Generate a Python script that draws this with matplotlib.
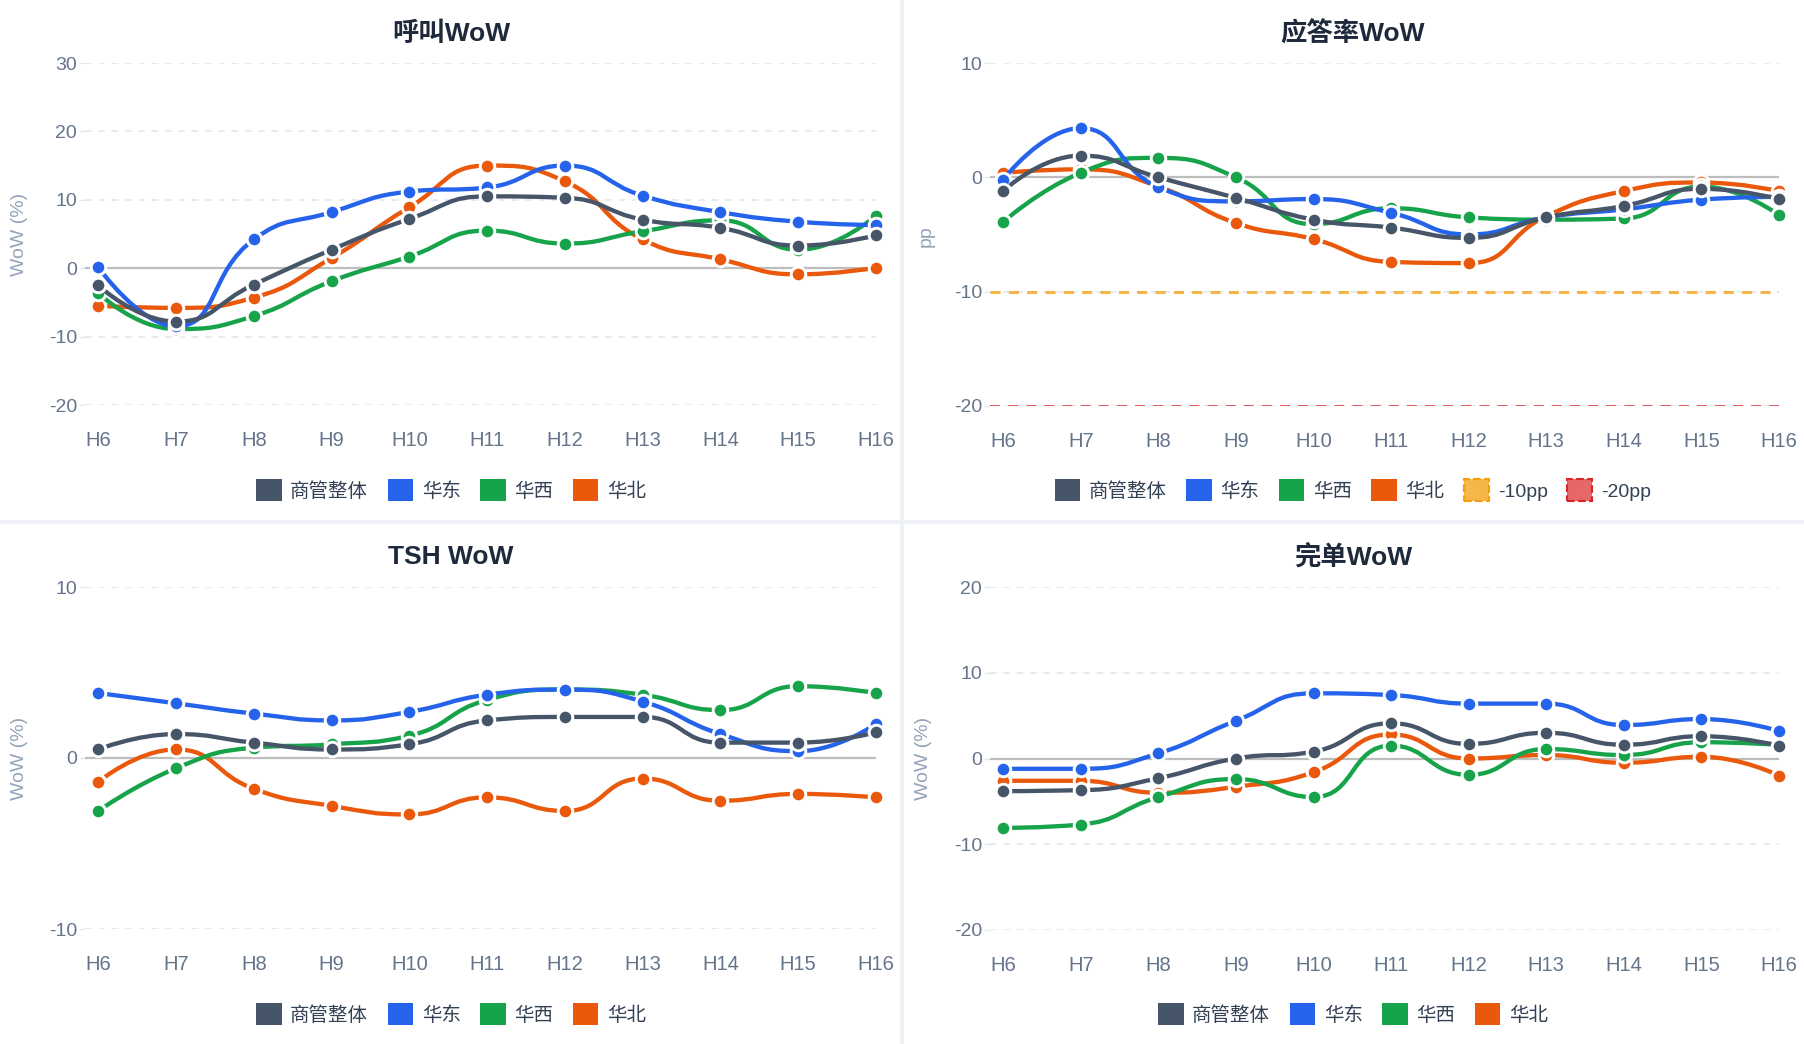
import numpy as np
import matplotlib
matplotlib.use('Agg')
import matplotlib.pyplot as plt
from matplotlib.path import Path
from matplotlib.patches import PathPatch, Patch, Rectangle

plt.rcParams['font.family'] = ['Liberation Sans', 'Noto Sans CJK SC']

# ---------------------------------------------------------------------------
# data
# ---------------------------------------------------------------------------
hours = ['H6', 'H7', 'H8', 'H9', 'H10', 'H11', 'H12', 'H13', 'H14', 'H15', 'H16']
regions = ['商管整体', '华东', '华西', '华北']
colors = ['#475569', '#2563eb', '#16a34a', '#ea580c']

call_overall = [-2.5, -7.8, -2.4, 2.7, 7.2, 10.5, 10.3, 7.1, 5.9, 3.3, 4.8]
call_east = [0.15, -8.5, 4.2, 8.2, 11.2, 11.8, 15.0, 10.6, 8.2, 6.8, 6.3]
call_west = [-3.6, -8.9, -7.0, -1.9, 1.7, 5.5, 3.6, 5.4, 7.0, 2.7, 7.7]
call_north = [-5.5, -5.8, -4.3, 1.5, 8.9, 15.0, 12.7, 4.2, 1.3, -0.9, 0.05]

ans_overall = [-1.2, 1.9, 0.0, -1.8, -3.7, -4.4, -5.3, -3.5, -2.5, -1.0, -1.9]
ans_east = [-0.2, 4.3, -0.85, -2.1, -1.9, -3.1, -5.0, -3.5, -2.8, -1.95, -1.7]
ans_west = [-3.9, 0.4, 1.7, 0.0, -4.1, -2.7, -3.5, -3.7, -3.6, -0.8, -3.3]
ans_north = [0.4, 0.7, -0.8, -4.0, -5.4, -7.4, -7.5, -3.4, -1.2, -0.45, -1.2]
ans_refs = [-10, -20]
ans_ref_labels = ['-10pp', '-20pp']

tsh_overall = [0.5, 1.4, 0.9, 0.5, 0.8, 2.2, 2.4, 2.4, 0.9, 0.9, 1.5]
tsh_east = [3.8, 3.2, 2.6, 2.2, 2.7, 3.7, 4.0, 3.3, 1.4, 0.4, 2.0]
tsh_west = [-3.1, -0.6, 0.6, 0.8, 1.3, 3.4, 4.0, 3.7, 2.8, 4.2, 3.8]
tsh_north = [-1.4, 0.5, -1.8, -2.8, -3.3, -2.3, -3.1, -1.2, -2.5, -2.1, -2.3]

done_overall = [-3.8, -3.7, -2.3, 0.0, 0.8, 4.1, 1.7, 3.0, 1.6, 2.6, 1.5]
done_east = [-1.2, -1.2, 0.6, 4.4, 7.6, 7.4, 6.4, 6.4, 3.9, 4.6, 3.2]
done_west = [-8.1, -7.7, -4.5, -2.4, -4.5, 1.5, -1.9, 1.1, 0.4, 1.9, 1.6]
done_north = [-2.6, -2.6, -4.0, -3.3, -1.6, 2.8, 0.0, 0.4, -0.5, 0.2, -2.0]

W, H = 1804, 1044
fig = plt.figure(figsize=(W / 100, H / 100), dpi=100, facecolor='#eef2f7')

# white panels
for (x0, y0, x1, y1) in [(0, 0, 900, 520), (904, 0, W, 520),
                         (0, 524, 900, H), (904, 524, W, H)]:
    fig.patches.append(Rectangle((x0 / W, 1 - y1 / H), (x1 - x0) / W, (y1 - y0) / H,
                                 transform=fig.transFigure, facecolor='white',
                                 edgecolor='none', zorder=-10))


def px_axes(left, right, top, bottom):
    ax = fig.add_axes([left / W, 1 - bottom / H, (right - left) / W, (bottom - top) / H])
    ax.patch.set_alpha(0)
    return ax


def clamp(v, a, b):
    return min(max(v, min(a, b)), max(a, b))


def smooth_path(ax, ys, smooth=0.5):
    # echarts-like smooth bezier, computed in pixel space
    xs = np.arange(len(ys))
    pts = ax.transData.transform(np.column_stack([xs, ys]))
    n = len(pts)
    verts = [pts[0]]
    codes = [Path.MOVETO]
    cp0 = tuple(pts[0])
    for i in range(1, n):
        x, y = pts[i]
        px, py = pts[i - 1]
        if i < n - 1:
            nx, ny = pts[i + 1]
            vx, vy = nx - px, ny - py
            l0 = np.hypot(x - px, y - py)
            l1 = np.hypot(nx - x, ny - y)
            r = l1 / (l0 + l1)
            ncx = clamp(x + vx * smooth * r, x, nx)
            ncy = clamp(y + vy * smooth * r, y, ny)
            vx, vy = ncx - x, ncy - y
            c1x = clamp(x - vx * l0 / l1, px, x)
            c1y = clamp(y - vy * l0 / l1, py, y)
            vx, vy = x - c1x, y - c1y
            ncx = x + vx * l1 / l0
            ncy = y + vy * l1 / l0
        else:
            c1x, c1y = x, y
            ncx, ncy = x, y
        verts += [cp0, (c1x, c1y), (x, y)]
        codes += [Path.CURVE4] * 3
        cp0 = (ncx, ncy)
    verts = ax.transData.inverted().transform(np.array(verts))
    return Path(verts, codes)


def draw_panel(box, title, title_xy, yticks, series, ylabel, ylabel_xy,
               legend_y, refs=None):
    ax = px_axes(*box)
    ax.set_xlim(-0.17, len(hours) - 1)
    ax.set_ylim(yticks[0], yticks[-1])
    for s in ax.spines.values():
        s.set_visible(False)
    ax.set_xticks(range(len(hours)))
    ax.set_xticklabels(hours)
    ax.set_yticks(yticks)
    ax.set_yticklabels([str(t) for t in yticks])
    ax.tick_params(axis='x', length=0, pad=19, labelsize=14.5, labelcolor='#64748b')
    ax.tick_params(axis='y', length=4.3, width=1, color='#e2e8f0', pad=1.5,
                   labelsize=14, labelcolor='#64748b')
    for t in yticks:
        if t != 0:
            ax.axhline(t, color='#e2e8f0', lw=1.2, ls=(0, (4, 4)), zorder=1)
    ax.axhline(0, color='#bdbdbd', lw=1.6, zorder=2)

    handles = []
    for i in range(len(regions)):
        z = 10 + (len(regions) - i) * 2
        path = smooth_path(ax, series[i])
        ax.add_patch(PathPatch(path, fill=False, edgecolor=colors[i], lw=3.1,
                               capstyle='round', joinstyle='round',
                               clip_on=False, zorder=z))
        ax.plot(range(len(hours)), series[i], 'o', ms=10.5, mfc=colors[i],
                mec='white', mew=2.1, clip_on=False, zorder=z + 1)
        handles.append(Patch(facecolor=colors[i], edgecolor='none'))
    labels = list(regions)

    if refs is not None:
        ax.axhline(refs[0], color='#f59e0b', alpha=0.75, lw=2.2,
                   ls=(0, (3.3, 2.7)), zorder=3)
        ax.axhline(refs[1], color='#dc2626', alpha=0.75, lw=1.45,
                   ls=(0, (5, 4)), zorder=3)
        handles.append(Patch(facecolor=(0.96, 0.62, 0.04, 0.75),
                             edgecolor='#f59e0b', linestyle='--', linewidth=1.5))
        handles.append(Patch(facecolor=(0.86, 0.15, 0.15, 0.7),
                             edgecolor='#dc2626', linestyle='--', linewidth=1.5))
        labels += ans_ref_labels

    panel_cx = title_xy[0]
    fig.text(panel_cx / W, 1 - title_xy[1] / H, title, ha='center', va='center',
             fontsize=19, fontweight='bold', color='#1e293b')
    fig.text(ylabel_xy[0] / W, 1 - ylabel_xy[1] / H, ylabel, rotation=90,
             ha='center', va='center', fontsize=14, color='#94a3b8')
    fig.legend(handles, labels, loc='center',
               bbox_to_anchor=(panel_cx / W, 1 - legend_y / H),
               ncol=len(labels), frameon=False, fontsize=14,
               labelcolor='#334155', handlelength=1.3, handleheight=1.3,
               handletextpad=0.45, columnspacing=1.0, borderaxespad=0)
    return ax


draw_panel((85, 876, 63, 405), '呼叫WoW', (451, 34), [-20, -10, 0, 10, 20, 30],
           [call_overall, call_east, call_west, call_north],
           'WoW (%)', (20, 234), 490)

draw_panel((990, 1779, 63, 406), '应答率WoW', (1353, 34), [-20, -10, 0, 10],
           [ans_overall, ans_east, ans_west, ans_north],
           'pp', (926, 236), 490, refs=ans_refs)

draw_panel((85, 876, 587, 929), 'TSH WoW', (451, 557), [-10, 0, 10],
           [tsh_overall, tsh_east, tsh_west, tsh_north],
           'WoW (%)', (20, 758), 1014)

draw_panel((990, 1779, 587, 930), '完单WoW', (1353, 557), [-20, -10, 0, 10, 20],
           [done_overall, done_east, done_west, done_north],
           'WoW (%)', (924, 758), 1014)

fig.savefig('out.png', dpi=100, facecolor=fig.get_facecolor())
